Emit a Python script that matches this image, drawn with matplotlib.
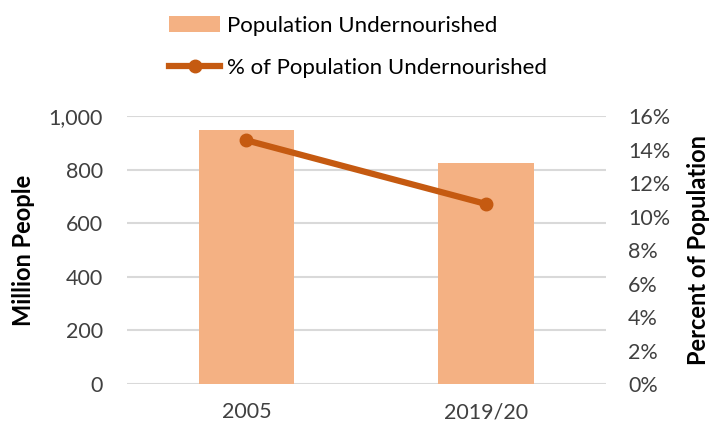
import matplotlib.pyplot as plt
from matplotlib.ticker import FuncFormatter

years = ["2005", "2019/20"]
people = [948, 825]
percent = [14.55, 10.75]

bar_color = "#F4B183"
line_color = "#C55A11"

plt.rcParams['font.family'] = ['Lato', 'DejaVu Sans']

fig = plt.figure(figsize=(7.16, 4.26), dpi=100)
ax = fig.add_axes([0.177, 0.0986, 0.669, 0.629])
ax2 = ax.twinx()

x = range(len(years))
bars = ax.bar(x, people, width=0.4, color=bar_color, zorder=2,
              label="Population Undernourished")
line, = ax2.plot(x, percent, color=line_color, lw=4.5, marker="o", ms=9,
                 label="% of Population Undernourished", zorder=3)

ax.set_xlim(-0.5, 1.5)
ax.set_ylim(0, 1000)
ax.set_yticks(range(0, 1001, 200))
ax.yaxis.set_major_formatter(FuncFormatter(lambda v, p: f"{int(v):,}"))
ax.set_xticks(list(x))
ax.set_xticklabels(years)
ax.grid(axis="y", color="#D9D9D9", lw=1.5, zorder=0)
ax.set_axisbelow(True)

ax2.set_ylim(0, 16)
ax2.set_yticks(range(0, 17, 2))
ax2.yaxis.set_major_formatter(FuncFormatter(lambda v, p: f"{int(v)}%"))

for a in (ax, ax2):
    for s in a.spines.values():
        s.set_visible(False)
    a.tick_params(length=0, labelsize=15.5, colors="#404040")
ax.tick_params(axis="y", pad=17)
ax.tick_params(axis="x", pad=13)
ax2.tick_params(axis="y", pad=16)

ax.set_ylabel("Million People", fontsize=17, fontweight="bold", labelpad=10)
ax2.set_ylabel("Percent of Population", fontsize=17, fontweight="bold",
               labelpad=12)

fig.legend(handles=[bars, line], loc="upper center",
           bbox_to_anchor=(0.5, 1.01), ncol=1, frameon=False, fontsize=16,
           labelspacing=1.0, handlelength=2.3, handletextpad=0.3)

fig.savefig("out.png", dpi=100)
